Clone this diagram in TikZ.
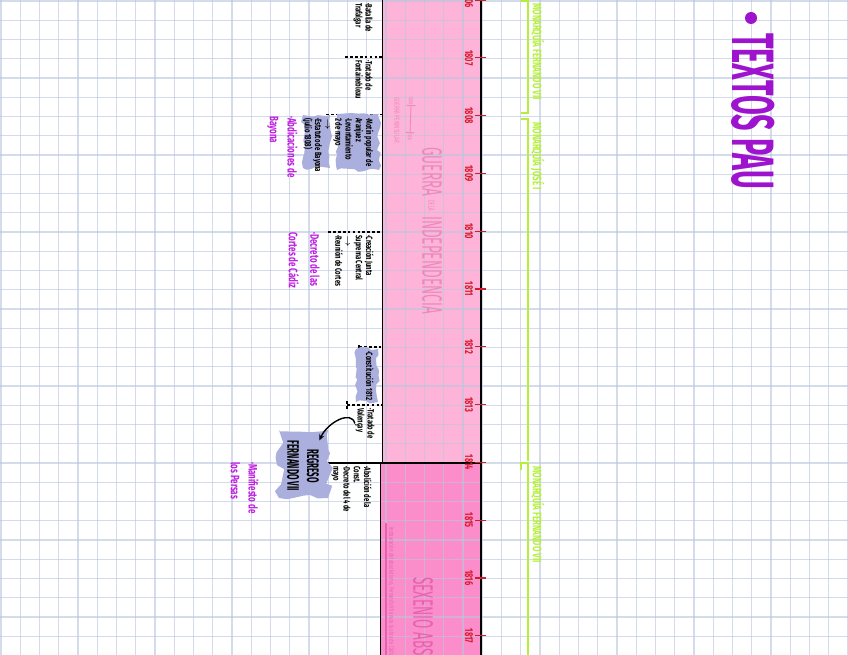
\documentclass[tikz,border=0pt]{standalone}
\usepackage{fontspec}
\usepackage{tikz}
\usetikzlibrary{arrows.meta, decorations.pathmorphing}
\newfontfamily\manoletra[FakeStretch=0.65]{Fira Sans}
\newfontfamily\manoestrecha[FakeStretch=0.48]{Fira Sans}
\definecolor{rejilla}{HTML}{B9C6DE}
\definecolor{rosaclaro}{HTML}{FDB4D8}
\definecolor{rosafuerte}{HTML}{FB8DCB}
\definecolor{lavanda}{HTML}{AAAFDD}
\definecolor{notamagenta}{HTML}{BE1EE0}
\definecolor{moradotitulo}{HTML}{9E14CE}
\definecolor{verdelima}{HTML}{B4F03A}
\definecolor{rojoanio}{HTML}{D61A2C}
\definecolor{rosaguerra}{HTML}{EC88BC}
\definecolor{rosasexenio}{HTML}{E462AE}
\tikzset{
  linearejilla/.style={rejilla, line width=0.8pt, opacity=0.62},
  nota/.style={rotate=-90, anchor=north west, inner sep=0pt, align=left, font=\manoletra\bfseries\fontsize{5.2}{5.8}\selectfont},
  notamag/.style={nota, text=notamagenta, font=\manoletra\bfseries\fontsize{7}{10.2}\selectfont},
  monarquia/.style={nota, text=verdelima, font=\manoletra\bfseries\fontsize{7}{8}\selectfont},
  anio/.style={rotate=-90, inner sep=0pt, text=rojoanio, font=\manoletra\bfseries\fontsize{6.5}{7}\selectfont},
  rotulo/.style={rotate=-90, anchor=west, inner sep=0pt},
  separador/.style={line width=1.1pt, dash pattern=on 1.6pt off 1.2pt},
  mancha/.style={fill=lavanda, decorate, decoration={random steps, segment length=3pt, amplitude=1.2pt}},
  corchete/.style={verdelima, line width=1pt},
}

\begin{document}
\begin{tikzpicture}[x=0.02cm, y=-0.02cm]
  \useasboundingbox (0,0) rectangle (848,655);
  \clip (0,0) rectangle (848,655);

  % Franja de la guerra y del sexenio
  \fill[rosaclaro] (382,0) rectangle (481,463);
  \fill[rosafuerte] (380,463) rectangle (481,655);

  % Cuadricula del cuaderno
  \foreach \i in {0,...,44} \draw[linearejilla] ({1+19.25*\i},0) -- ({1+19.25*\i},655);
  \foreach \j in {0,...,34} \draw[linearejilla] (0,{1+19.25*\j}) -- (848,{1+19.25*\j});

  % Bordes de la franja
  \draw[line width=1.1pt] (382.5,0) -- (382.5,463) (380.5,463) -- (380.5,655);
  \draw[line width=1.1pt] (481,0) -- (481,655);
  \draw[line width=1pt] (327,463) -- (481,463);

  % Linea de tiempo
  \foreach \k in {0,...,11} {
    \pgfmathtruncatemacro{\fecha}{1806+\k}
    \draw[rojoanio, line width=0.7pt] (475,57.8*\k) -- (486,57.8*\k);
    \node[anio] (a\fecha) at (469,57.8*\k) {\fecha};
  }

  % Reinados
  \draw[corchete] (521,1) -- (528,1) -- (528,113) -- (521,113);
  \draw[corchete] (521,119) -- (528,119) -- (528,461);
  \draw[corchete] (521,470) -- (521,463) -- (528,463) -- (528,655);
  \node[monarquia] (mon1) at (545,3) {MONARQUÍA FERNANDO VII};
  \node[monarquia] (mon2) at (545,122) {MONARQUÍA JOSÉ I};
  \node[monarquia] (mon3) at (545,466) {MONARQUÍA FERNANDO VII};

  % Separadores
  \draw[separador] (345,57) -- (383,57);
  \draw[separador] (326,114.5) -- (383,114.5);
  \draw[separador] (328,232) -- (383,232);
  \draw[separador] (359,347) -- (383,347) (359,345) -- (359,353);
  \draw[separador] (347,405) -- (383,405) (347,401) -- (347,409);

  % Subrayados
  \fill[mancha] (337,114) rectangle (379,170);
  \fill[mancha] (303,115) rectangle (330,168);
  \fill[mancha] (356,349) rectangle (378,402);
  \fill[mancha, decoration={random steps, segment length=5pt, amplitude=3pt}] (279,430) rectangle (328,498);

  % Hechos
  \node[nota] (trafalgar) at (373,3) {·Batalla de\\Trafalgar};
  \node[nota] (fontainebleau) at (373,60) {·Tratado de\\Fontainebleau};
  \node[nota] (aranjuez) at (374,118) {·Motín popular de\\Aranjuez\\·Levantamiento\\2 de mayo\\$\rightarrow$\\·Estatuto de Bayona\\(julio 1808)};
  \node[notamag] (bayona) at (298,116) {·Abdicaciones de\\Bayona};
  \node[nota] (junta) at (374,235) {·Creación Junta\\Suprema Central\\$\rightarrow$\\·Reunión de Cortes};
  \node[notamag] (decreto) at (320,232) {·Decreto de las\\[2pt]Cortes de Cádiz};
  \node[nota] (constitucion) at (374,351) {·Constitución 1812};
  \node[nota] (valencay) at (375,408) {·Tratado de\\Valençay};
  \node[nota] (abolicion) at (372,466) {·Abolición de la\\Const.\\·Decreto del 4 de\\mayo};
  \node[notamag] (persas) at (259,462) {·Manifiesto de\\los Persas};
  \node[rotate=-90, inner sep=0pt, align=center, font=\manoestrecha\bfseries\fontsize{9.5}{11.3}\selectfont] (regreso) at (303,466) {REGRESO\\FERNANDO VII};
  \draw[-{Stealth[length=3.5pt, width=3pt]}, line width=0.8pt] (valencay.south) .. controls +(-3,-14) and +(8,-18) .. (regreso.north west);

  % Rotulos de la franja
  \node[rotulo, text=rosaguerra, font=\manoletra\fontsize{3.5}{4}\selectfont] (f1808) at (411,96) {1808};
  \node[rotulo, text=rosaguerra, font=\manoletra\fontsize{3.5}{4}\selectfont] (f1814) at (410,133) {1814};
  \draw[rosaguerra, line width=0.5pt, |-|] (f1808.east) -- (f1814.west);
  \node[rotulo, text=rosaguerra, font=\manoletra\fontsize{4.2}{5}\selectfont] (peninsular) at (397,97) {GUERRA PENINSULAR};
  \node[rotulo, text=rosaguerra, font=\manoestrecha\fontsize{16}{16}\selectfont] (guerra) at (432,147) {GUERRA\,\raisebox{3.5pt}{\fontsize{5}{5}\selectfont DE LA}\,INDEPENDENCIA};
  \draw[rosasexenio, line width=0.6pt] (386,523) -- (386,655);
  \node[nota, text=rosasexenio, font=\manoletra\fontsize{3.8}{4}\selectfont] (restauracion) at (395,527) {restauración del absolutismo, Fernando VII anula la obra de Cádiz};
  \node[rotulo, text=rosasexenio, font=\manoestrecha\fontsize{16}{16}\selectfont] (sexenio) at (423,577) {SEXENIO ABSOLUTISTA};

  % Titulo
  \fill[moradotitulo] (751,18) circle (6);
  \node[rotulo, text=moradotitulo, font=\manoestrecha\bfseries\fontsize{34}{34}\selectfont] (titulo) at (753,33) {TEXTOS PAU};
\end{tikzpicture}
\end{document}
